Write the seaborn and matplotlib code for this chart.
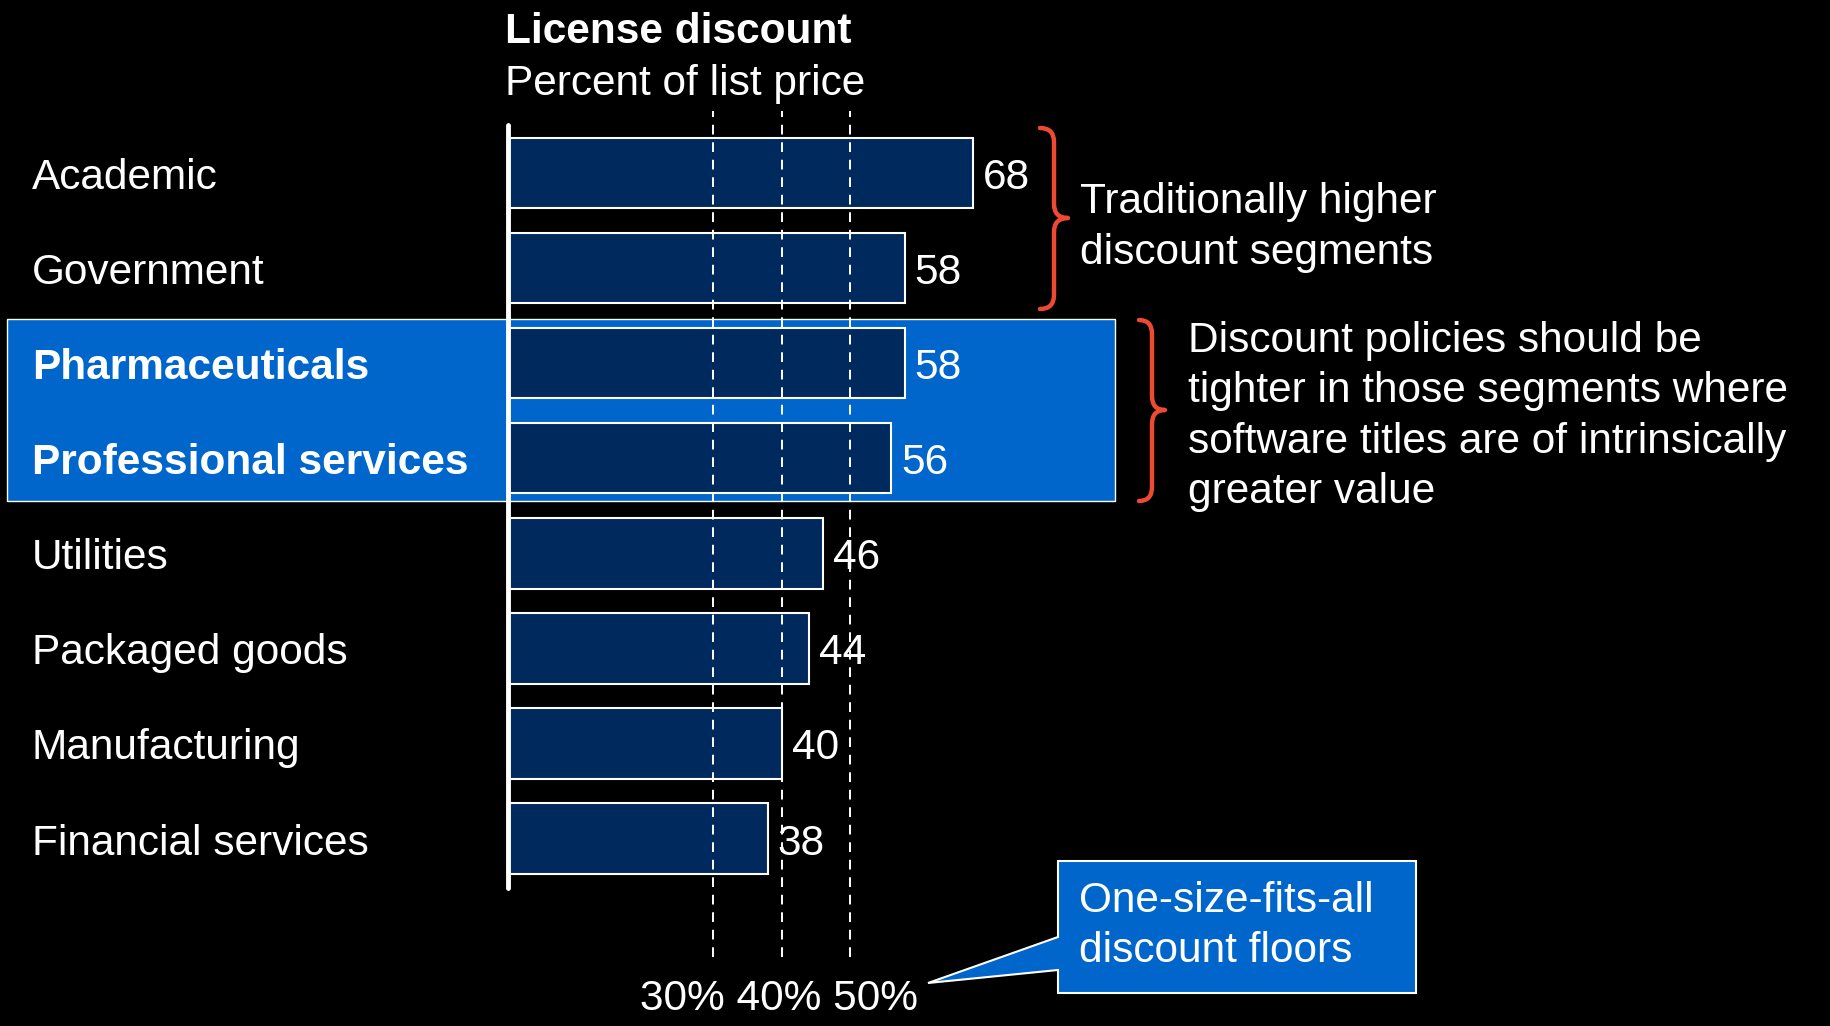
import matplotlib
matplotlib.use("Agg")
import matplotlib.pyplot as plt
import matplotlib.transforms as mtransforms
from matplotlib.patches import Rectangle, Polygon, PathPatch
from matplotlib.path import Path
import pandas as pd
import seaborn as sns

# ---- data ----
segments = ["Academic", "Government", "Pharmaceuticals", "Professional services",
            "Utilities", "Packaged goods", "Manufacturing", "Financial services"]
discounts = [68, 58, 58, 56, 46, 44, 40, 38]
highlighted = ["Pharmaceuticals", "Professional services"]
floor_levels = [30, 40, 50]
floor_labels = ["30%", "40%", "50%"]
title = "License discount"
subtitle = "Percent of list price"
note_high = ["Traditionally higher", "discount segments"]
note_tight = ["Discount policies should be", "tighter in those segments where",
              "software titles are of intrinsically", "greater value"]
callout_lines = ["One-size-fits-all", "discount floors"]

# ---- style ----
W, H, DPI = 1831, 1026, 100
NAVY = "#002A5E"
BLUE = "#0066CC"
RED = "#EE4A33"
FS = 30.5

sns.set_style("dark")
plt.rcParams["font.family"] = ["Liberation Sans", "DejaVu Sans"]
plt.rcParams["text.color"] = "white"


def fx(px):
    return px / W


def fy(py):
    return 1 - py / H


fig = plt.figure(figsize=(W / DPI, H / DPI), dpi=DPI, facecolor="black")

# highlight band behind the two emphasised segments
fig.add_artist(Rectangle((fx(7), fy(501)), (1115 - 7) / W, (501 - 319) / H,
                         transform=fig.transFigure, facecolor=BLUE,
                         edgecolor="white", lw=1.0, zorder=-1))

ax = fig.add_axes([fx(508), fy(888), 684 / W, 763 / H])
ax.set_facecolor("none")

df = pd.DataFrame({"segment": segments, "discount": discounts})
sns.barplot(data=df, x="discount", y="segment", orient="h", color=NAVY,
            saturation=1, edgecolor="white", linewidth=1.5, width=0.74,
            ax=ax, zorder=2)
ax.set_xlim(0, 100)
ax.set_ylim(len(segments) - 1 + 0.52, -0.505)
ax.axis("off")

# reference floors
for v in floor_levels:
    ax.axvline(v, ymin=-0.0904, ymax=1.018, color="white", lw=1.4,
               ls=(0, (5, 4)), clip_on=False, zorder=3)

# value axis line
ax.axvline(0, ymin=0, ymax=1, color="white", lw=3.5,
           solid_capstyle="round", clip_on=False, zorder=4)

# value labels
val_tr = mtransforms.offset_copy(ax.transData, fig=fig, x=10, y=-16, units="dots")
for i, v in enumerate(discounts):
    ax.text(v, i, str(v), transform=val_tr, ha="left", va="baseline",
            fontsize=FS, color="white", zorder=5)

# segment names
cat_tr = mtransforms.offset_copy(
    mtransforms.blended_transform_factory(fig.transFigure, ax.transData),
    fig=fig, x=0, y=-16, units="dots")
for i, s in enumerate(segments):
    ax.text(fx(32), i, s, transform=cat_tr, ha="left", va="baseline",
            fontsize=FS, color="white",
            fontweight="bold" if s in highlighted else "normal", clip_on=False)

# title block
fig.text(fx(505), fy(43), title, fontsize=FS, fontweight="bold",
         color="white", ha="left", va="baseline")
fig.text(fx(505), fy(95), subtitle, fontsize=FS, color="white",
         ha="left", va="baseline")

# floor labels under the dashed lines
fig.text(fx(779), fy(1010), " ".join(floor_labels), fontsize=FS,
         color="white", ha="center", va="baseline")


def brace(x0, x1, ytop, ybot, ymid):
    xm = x0 + 0.5 * (x1 - x0)
    r = 14
    pts = [(x0, ytop), (xm, ytop), (xm, ytop + r),
           (xm, ymid - r),
           (xm, ymid), (x1, ymid),
           (xm, ymid), (xm, ymid + r),
           (xm, ybot - r),
           (xm, ybot), (x0, ybot)]
    codes = [Path.MOVETO, Path.CURVE3, Path.CURVE3,
             Path.LINETO,
             Path.CURVE3, Path.CURVE3,
             Path.CURVE3, Path.CURVE3,
             Path.LINETO,
             Path.CURVE3, Path.CURVE3]
    verts = [(fx(px), fy(py)) for px, py in pts]
    fig.add_artist(PathPatch(Path(verts, codes), transform=fig.transFigure,
                             fill=False, edgecolor=RED, lw=3.2,
                             capstyle="round", joinstyle="round", zorder=5))


brace(1040, 1068, 128, 309, 218)
brace(1139, 1165, 320, 501, 410)

for k, line in enumerate(note_high):
    fig.text(fx(1080), fy(213 + 51 * k), line, fontsize=FS, color="white",
             ha="left", va="baseline")
for k, line in enumerate(note_tight):
    fig.text(fx(1188), fy(352 + 50.4 * k), line, fontsize=FS, color="white",
             ha="left", va="baseline")

# callout box with pointer
callout = [(1058, 861), (1416, 861), (1416, 993), (1058, 993),
           (1058, 970), (928, 983), (1058, 937)]
fig.add_artist(Polygon([(fx(x), fy(y)) for x, y in callout], closed=True,
                       transform=fig.transFigure, facecolor=BLUE,
                       edgecolor="white", lw=1.5, zorder=5))
for k, line in enumerate(callout_lines):
    fig.text(fx(1079), fy(912 + 50 * k), line, fontsize=FS, color="white",
             ha="left", va="baseline", zorder=6)

fig.savefig("out.png", dpi=DPI, facecolor="black")
